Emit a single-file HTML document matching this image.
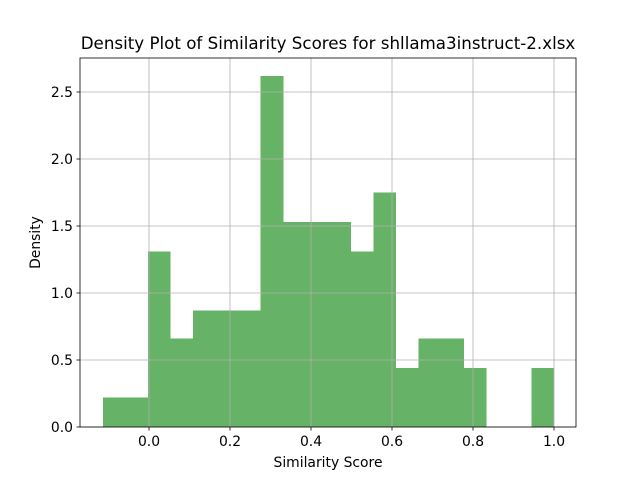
<!DOCTYPE html>
<html><head><meta charset="utf-8"><style>body{margin:0;background:#fff}svg{display:block;font-family:"DejaVu Sans","Liberation Sans",sans-serif}</style></head>
<body>
<svg id="chart" width="640" height="480"></svg>
<script>
const binStart = -0.114;
const binEnd = 1.0;
const densities = [0.22,0.22,1.31,0.66,0.87,0.87,0.87,2.62,1.53,1.53,1.53,1.31,1.75,0.44,0.66,0.66,0.44,0,0,0.44];
const xTicks = [0.0,0.2,0.4,0.6,0.8,1.0];
const xTickLabels = ["0.0","0.2","0.4","0.6","0.8","1.0"];
const yTicks = [0.0,0.5,1.0,1.5,2.0,2.5];
const yTickLabels = ["0.0","0.5","1.0","1.5","2.0","2.5"];

const svg = document.getElementById('chart');
const NS = 'http://www.w3.org/2000/svg';
const L=80,R=576,T=58,B=427;
const xs = v => 149 + v*405;
const ys = v => 427 - v*134;
function mk(tag, attrs, parent){const e=document.createElementNS(NS,tag);for(const k in attrs)e.setAttribute(k,attrs[k]);(parent||svg).appendChild(e);return e;}

const n = densities.length, w = (binEnd-binStart)/n;
densities.forEach((d,i)=>{
  if(d<=0) return;
  const x0=xs(binStart+i*w), x1=xs(binStart+(i+1)*w);
  const r=mk('rect',{x:x0,y:ys(d),width:x1-x0,height:ys(0)-ys(d),fill:'#66b266','shape-rendering':'crispEdges'});
  
  
});
xTicks.forEach((t,i)=>{
  const x=xs(t);
  const g=mk('line',{x1:x,x2:x,y1:T,y2:B,stroke:'#b0b0b0','stroke-width':0.8});
  
  
  mk('line',{x1:x,x2:x,y1:B,y2:B+3.5,stroke:'#000','stroke-width':0.8});
  const tx=mk('text',{x:x,y:B+19,'font-size':13.9,'text-anchor':'middle'});tx.textContent=xTickLabels[i];
  
  
});
yTicks.forEach((t,i)=>{
  const y=ys(t);
  const g=mk('line',{x1:L,x2:R,y1:y,y2:y,stroke:'#b0b0b0','stroke-width':0.8});
  
  
  mk('line',{x1:L-3.5,x2:L,y1:y,y2:y,stroke:'#000','stroke-width':0.8});
  const tx=mk('text',{x:L-7,y:y+5,'font-size':13.9,'text-anchor':'end'});tx.textContent=yTickLabels[i];
  
  
});
const fr=mk('rect',{x:L,y:T,width:R-L,height:B-T,fill:'none',stroke:'#000','stroke-width':0.8});


const ti=mk('text',{x:(L+R)/2,y:49,'font-size':16.7,'text-anchor':'middle'});ti.textContent='Density Plot of Similarity Scores for shllama3instruct-2.xlsx';


const xl=mk('text',{x:(L+R)/2,y:467,'font-size':13.9,'text-anchor':'middle'});xl.textContent='Similarity Score';


const yl=mk('text',{x:40,y:(T+B)/2,'font-size':13.9,'text-anchor':'middle',transform:'rotate(-90 40 '+((T+B)/2)+')'});yl.textContent='Density';


</script>
</body></html>
